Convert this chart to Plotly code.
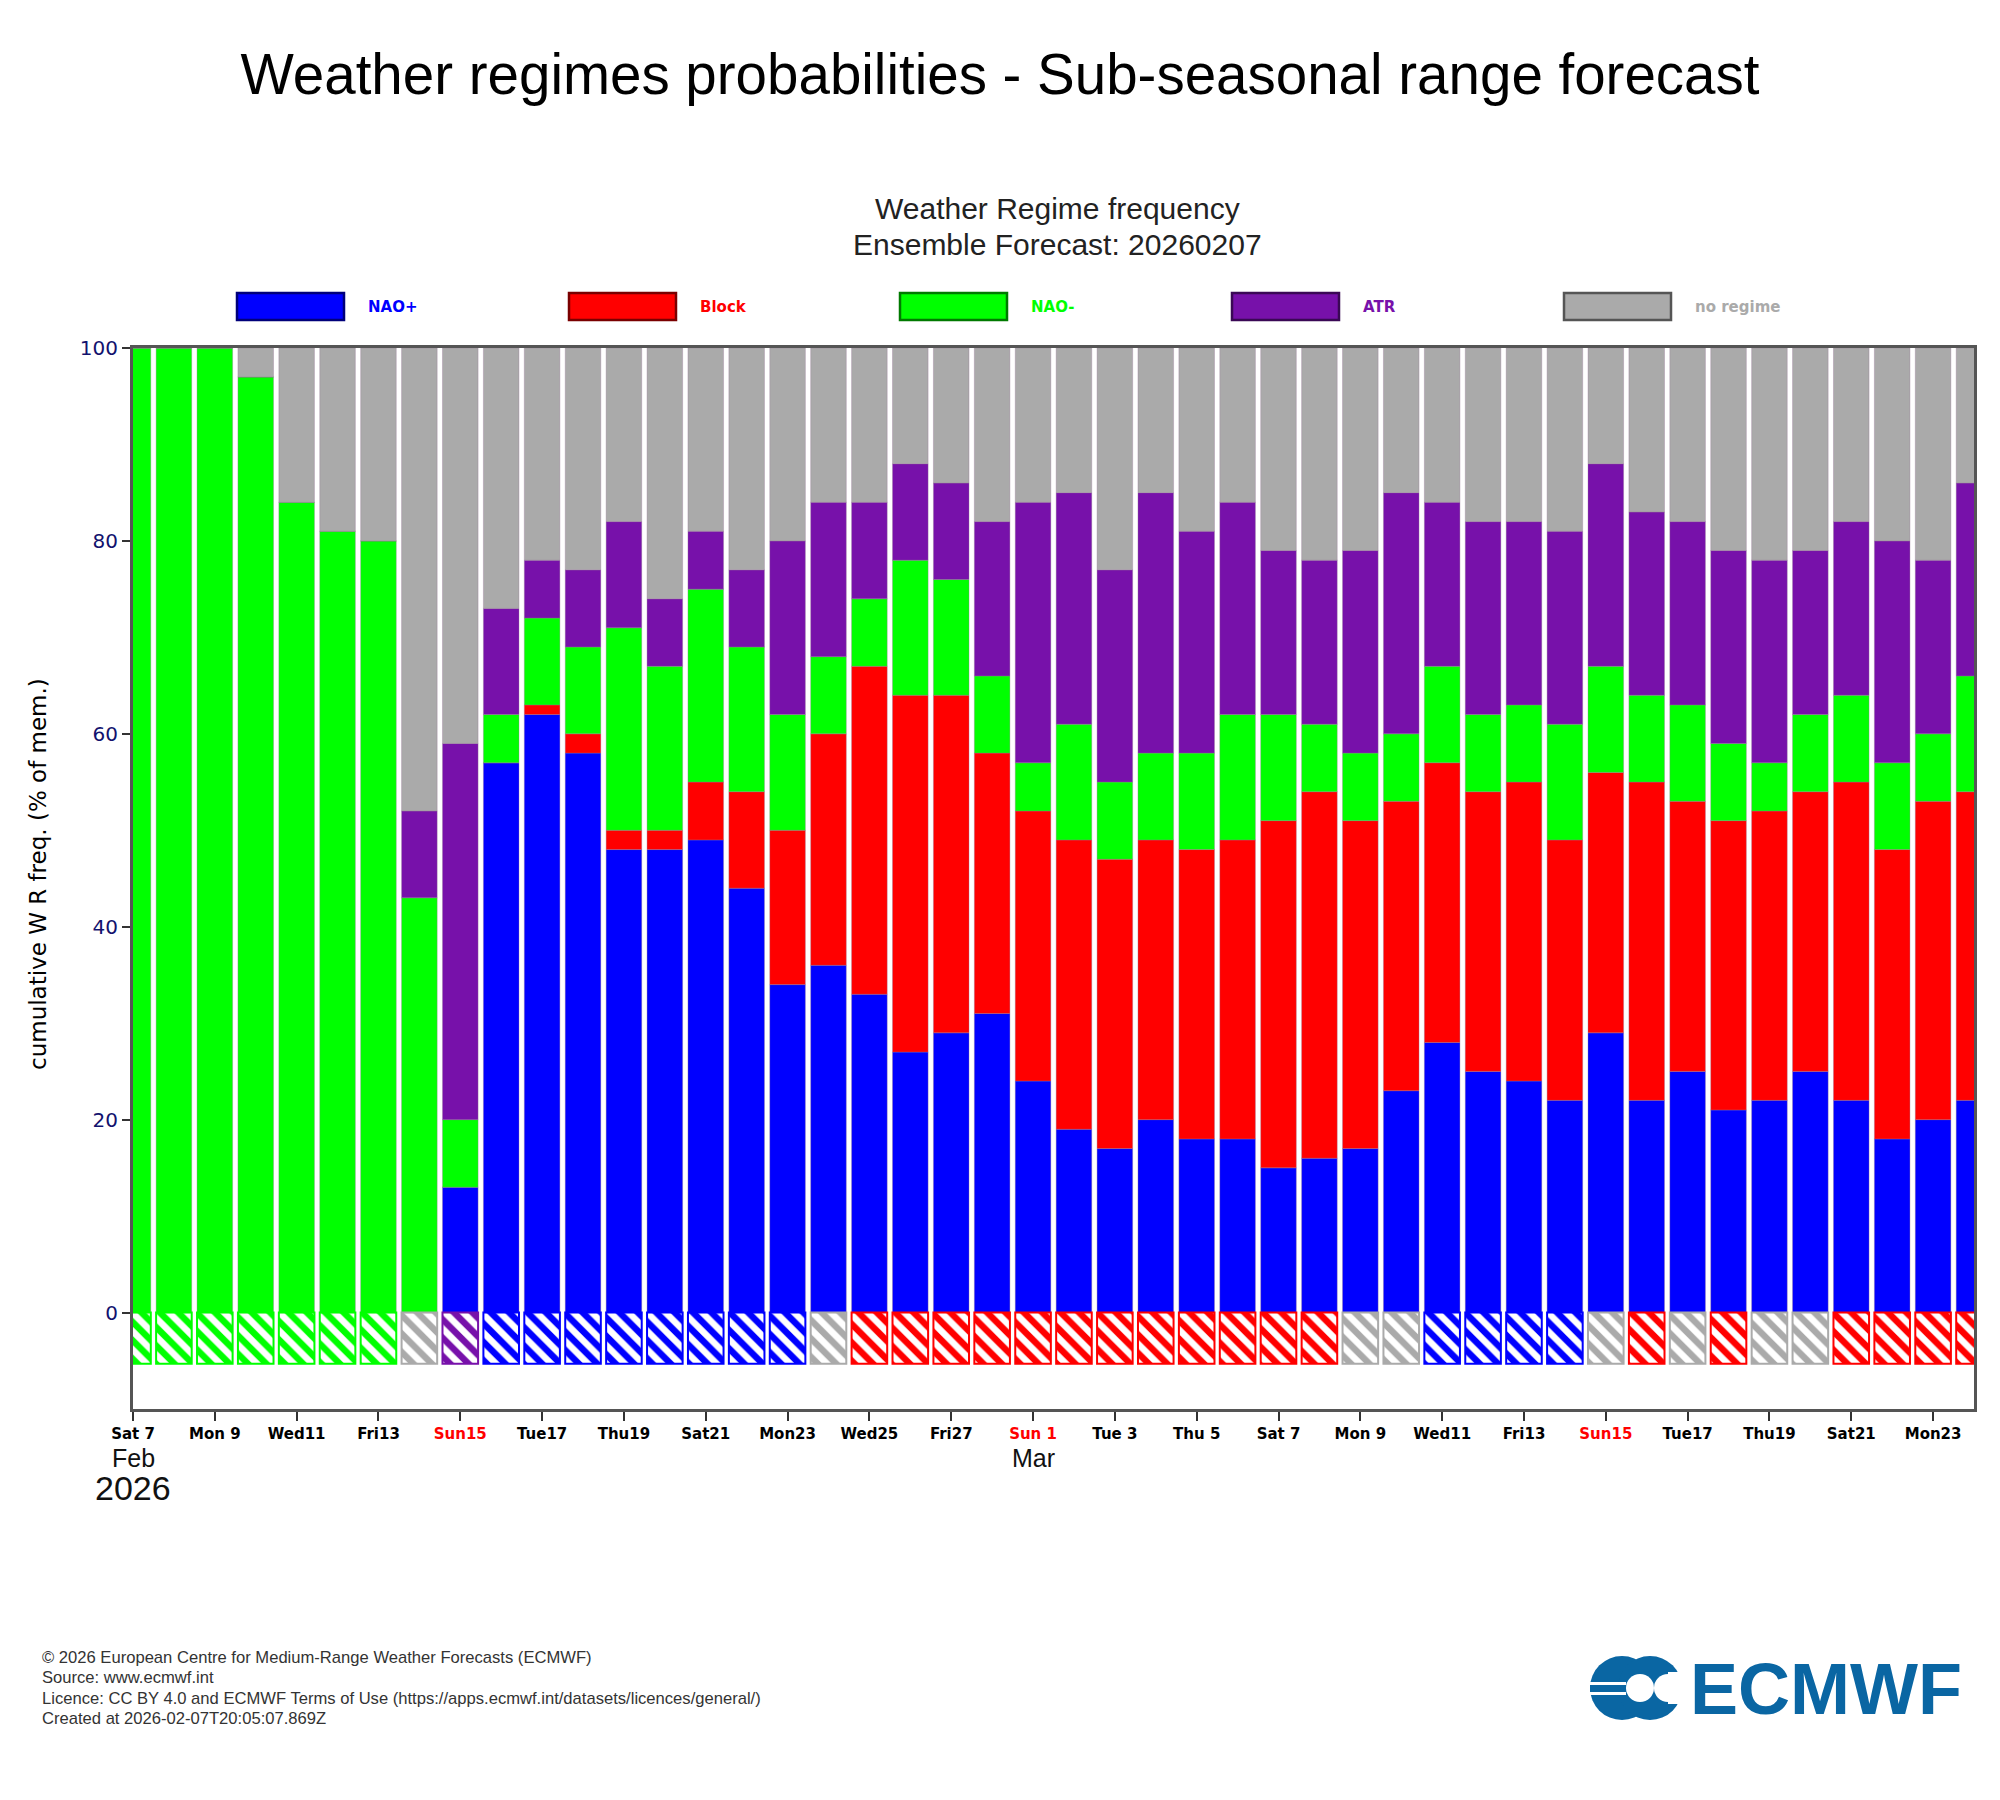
import plotly.graph_objects as go

# ---------------- data ----------------
dates = ["2026-02-07", "2026-02-08", "2026-02-09", "2026-02-10", "2026-02-11", "2026-02-12",
         "2026-02-13", "2026-02-14", "2026-02-15", "2026-02-16", "2026-02-17", "2026-02-18",
         "2026-02-19", "2026-02-20", "2026-02-21", "2026-02-22", "2026-02-23", "2026-02-24",
         "2026-02-25", "2026-02-26", "2026-02-27", "2026-02-28", "2026-03-01", "2026-03-02",
         "2026-03-03", "2026-03-04", "2026-03-05", "2026-03-06", "2026-03-07", "2026-03-08",
         "2026-03-09", "2026-03-10", "2026-03-11", "2026-03-12", "2026-03-13", "2026-03-14",
         "2026-03-15", "2026-03-16", "2026-03-17", "2026-03-18", "2026-03-19", "2026-03-20",
         "2026-03-21", "2026-03-22", "2026-03-23", "2026-03-24"]

nao_plus = [0, 0, 0, 0, 0, 0, 0, 0, 13, 57, 62, 58, 48, 48, 49, 44, 34, 36, 33, 27, 29, 31, 24,
            19, 17, 20, 18, 18, 15, 16, 17, 23, 28, 25, 24, 22, 29, 22, 25, 21, 22, 25, 22, 18, 20, 22]
block = [0, 0, 0, 0, 0, 0, 0, 0, 0, 0, 1, 2, 2, 2, 6, 10, 16, 24, 34, 37, 35, 27, 28,
         30, 30, 29, 30, 31, 36, 38, 34, 30, 29, 29, 31, 27, 27, 33, 28, 30, 30, 29, 33, 30, 33, 32]
nao_minus = [100, 100, 100, 97, 84, 81, 80, 43, 7, 5, 9, 9, 21, 17, 20, 15, 12, 8, 7, 14, 12, 8, 5,
             12, 8, 9, 10, 13, 11, 7, 7, 7, 10, 8, 8, 12, 11, 9, 10, 8, 5, 8, 9, 9, 7, 12]
atr = [0, 0, 0, 0, 0, 0, 0, 9, 39, 11, 6, 8, 11, 7, 6, 8, 18, 16, 10, 10, 10, 16, 27,
       24, 22, 27, 23, 22, 17, 17, 21, 25, 17, 20, 19, 20, 21, 19, 19, 20, 21, 17, 18, 23, 18, 20]
no_regime = [0, 0, 0, 3, 16, 19, 20, 48, 41, 27, 22, 23, 18, 26, 19, 23, 20, 16, 16, 12, 14, 18, 16,
             15, 23, 15, 19, 16, 21, 22, 21, 15, 16, 18, 18, 19, 12, 17, 18, 21, 22, 21, 18, 20, 22, 14]

dominant = (["NAO-"] * 7 + ["none", "ATR"] + ["NAO+"] * 8 + ["none"] + ["Block"] * 12
            + ["none", "none"] + ["NAO+"] * 4
            + ["none", "Block", "none", "Block", "none", "none", "Block", "Block", "Block", "Block"])

tick_dates = dates[0:45:2]
tick_labels = ["Sat 7", "Mon 9", "Wed11", "Fri13", "Sun15", "Tue17", "Thu19", "Sat21", "Mon23",
               "Wed25", "Fri27", "Sun 1", "Tue 3", "Thu 5", "Sat 7", "Mon 9", "Wed11", "Fri13",
               "Sun15", "Tue17", "Thu19", "Sat21", "Mon23"]

regime_names = ["NAO+", "Block", "NAO-", "ATR", "no regime"]
regime_colors = {"NAO+": "#0000FF", "Block": "#FF0000", "NAO-": "#00FF00",
                 "ATR": "#7711AA", "no regime": "#AAAAAA", "none": "#AAAAAA"}
regime_edges = {"NAO+": "#00007a", "Block": "#7a0000", "NAO-": "#007a00",
                "ATR": "#3a0855", "no regime": "#555555"}

# ---------------- geometry (pixels) ----------------
W, H = 2000, 1800
PL, PR, PT, PB = 133, 1974, 348, 1409


def px_x(x):
    return (x - PL) / (PR - PL)


def px_y(y):
    return (PB - y) / (PB - PT)


fig = go.Figure()

series = [nao_plus, block, nao_minus, atr, no_regime]
for name, vals in zip(regime_names, series):
    fig.add_trace(go.Bar(x=dates, y=vals, name=name,
                         marker=dict(color=regime_colors[name],
                                     line=dict(width=0.6, color="rgba(150,120,150,0.6)")),
                         showlegend=False))

# hatched dominant-regime boxes below zero
box_cols = [regime_colors[d] for d in dominant]
fig.add_trace(go.Bar(
    x=dates, y=[-5.3] * len(dates), showlegend=False,
    marker=dict(color="white",
                line=dict(color=box_cols, width=2),
                pattern=dict(shape="\\", fgcolor=box_cols, size=13, solidity=0.5,
                             fillmode="replace"))))

ticktext = [f'<span style="color:#FF0000">{t}</span>' if t.startswith("Sun") else t
            for t in tick_labels]

fig.update_layout(
    width=W, height=H,
    barmode="relative", bargap=0.13,
    plot_bgcolor="white", paper_bgcolor="white",
    margin=dict(l=PL, r=W - PR, t=PT, b=H - PB, autoexpand=False),
    title=dict(text="Weather regimes probabilities - Sub-seasonal range forecast",
               x=0.5, xref="container", xanchor="center",
               y=1 - 74 / H, yref="container", yanchor="middle",
               font=dict(family="Liberation Sans, Arial", size=56.5, color="black")),
    xaxis=dict(type="date", range=[dates[0], dates[-1]],
               tickmode="array", tickvals=tick_dates, ticktext=ticktext,
               ticks="outside", ticklen=9, tickwidth=2, tickcolor="#333",
               tickfont=dict(family="DejaVu Sans", size=15, color="black", weight="bold"),
               showline=True, linecolor="#555", linewidth=3, mirror=True,
               showgrid=False, zeroline=False, automargin=False),
    yaxis=dict(range=[-10, 100], tickmode="array", tickvals=[0, 20, 40, 60, 80, 100],
               ticks="outside", ticklen=8, tickwidth=2, tickcolor="#333",
               tickfont=dict(family="DejaVu Sans", size=20, color="#12126e"),
               showline=True, linecolor="#555", linewidth=3, mirror=True,
               showgrid=False, zeroline=False, automargin=False),
)

ann = []
# subtitles
ann.append(dict(text="Weather Regime frequency", x=px_x(1057), y=px_y(209),
                font=dict(family="Liberation Sans", size=30, color="#222")))
ann.append(dict(text="Ensemble Forecast: 20260207", x=px_x(1057), y=px_y(244),
                font=dict(family="Liberation Sans", size=30, color="#222")))
# y axis title
ann.append(dict(text="cumulative W R freq. (% of mem.)", x=px_x(38), y=px_y(874),
                textangle=-90, font=dict(family="DejaVu Sans", size=23, color="black")))

# legend
legend_box_left = [237, 569, 900, 1232, 1564]
shapes = []
for name, bx in zip(regime_names, legend_box_left):
    shapes.append(dict(type="rect", xref="paper", yref="paper",
                       x0=px_x(bx), x1=px_x(bx + 107), y0=px_y(320), y1=px_y(293),
                       fillcolor=regime_colors[name],
                       line=dict(color=regime_edges[name], width=2.5)))
    ann.append(dict(text=name, x=px_x(bx + 129), y=px_y(307), xanchor="left",
                    font=dict(family="DejaVu Sans", size=15, color=regime_colors[name],
                              weight="bold")))

# month / year labels
ann.append(dict(text="Feb", x=dates[0], xref="x", y=px_y(1458), yref="paper",
                font=dict(family="Liberation Sans", size=25, color="#111")))
ann.append(dict(text="Mar", x="2026-03-01", xref="x", y=px_y(1458), yref="paper",
                font=dict(family="Liberation Sans", size=25, color="#111")))
ann.append(dict(text="2026", x=dates[0], xref="x", y=px_y(1488), yref="paper",
                font=dict(family="Liberation Sans", size=34, color="#111")))

# footer
footer = ["© 2026 European Centre for Medium-Range Weather Forecasts (ECMWF)",
          "Source: www.ecmwf.int",
          "Licence: CC BY 4.0 and ECMWF Terms of Use (https://apps.ecmwf.int/datasets/licences/general/)",
          "Created at 2026-02-07T20:05:07.869Z"]
for k, line in enumerate(footer):
    ann.append(dict(text=line, x=px_x(40), y=px_y(1657 + k * 20.5), xanchor="left",
                    font=dict(family="Liberation Sans", size=16.6, color="#333")))

# ECMWF logo
blue = "#0a66a3"
ann.append(dict(text="<b>ECMWF</b>", x=px_x(1688), y=px_y(1689), xanchor="left",
                font=dict(family="Liberation Sans", size=72, color=blue)))


def circ(cx, cy, r, color):
    return dict(type="circle", xref="paper", yref="paper",
                x0=px_x(cx - r), x1=px_x(cx + r), y0=px_y(cy + r), y1=px_y(cy - r),
                fillcolor=color, line=dict(width=0))


def rect(x0, x1, y0, y1, color):
    return dict(type="rect", xref="paper", yref="paper",
                x0=px_x(x0), x1=px_x(x1), y0=px_y(y1), y1=px_y(y0),
                fillcolor=color, line=dict(width=0))


shapes += [circ(1622, 1688, 32, blue), circ(1650, 1688, 32, blue),
           circ(1640, 1688, 14, "white"), circ(1668, 1688, 14, "white"),
           rect(1668, 1684, 1672, 1704, "white"),
           rect(1590, 1626, 1682, 1685, "white"), rect(1590, 1626, 1692, 1695, "white"),
           rect(1590, 1626, 1685, 1692, blue)]

for a in ann:
    a.setdefault("xref", "paper")
    a.setdefault("yref", "paper")
    a.setdefault("showarrow", False)
    a.setdefault("xanchor", "center")
    a.setdefault("yanchor", "middle")

fig.update_layout(annotations=ann, shapes=shapes)
fig.write_html("out.html")
